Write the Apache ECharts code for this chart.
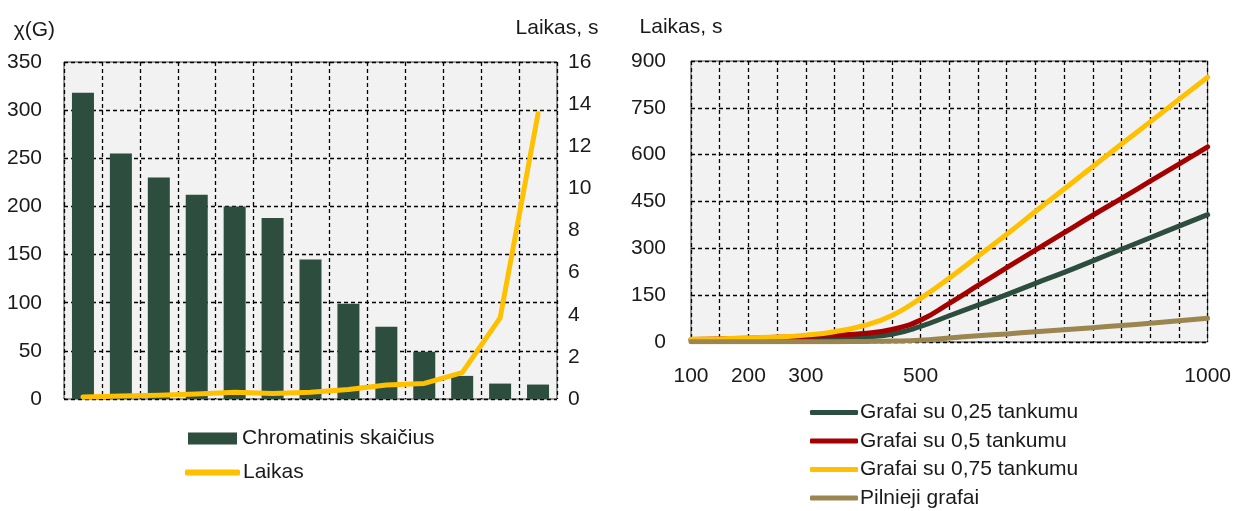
<!DOCTYPE html>
<html>
<head>
<meta charset="utf-8">
<script src="https://cdn.jsdelivr.net/npm/echarts@6/dist/echarts.min.js"></script>
<style>
  html, body { margin: 0; padding: 0; background: #ffffff; }
  #chart { width: 1234px; height: 511px; }
</style>
</head>
<body>
<div id="chart"></div>
<script>
// Left panel: chromatic number of each test graph and the time needed to find it
const graphs = ['G1', 'G2', 'G3', 'G4', 'G5', 'G6', 'G7', 'G8', 'G9', 'G10', 'G11', 'G12', 'G13'];
const chromaticNumber = [318, 255, 230, 212, 200, 188, 145, 99, 75, 49, 24, 16, 15];
const timeSeconds = [0.1, 0.14, 0.18, 0.24, 0.32, 0.26, 0.32, 0.45, 0.66, 0.74, 1.25, 3.85, 13.55];

// Right panel: running time by number of vertices for several edge densities
const vertexCounts = [100, 150, 200, 250, 300, 350, 400, 450, 500, 550, 600, 650, 700, 750, 800, 850, 900, 950, 1000];
const density025 = [7, 7, 8, 9, 10, 12, 16, 25, 50, 84, 118, 152, 188, 223, 260, 297, 334, 371, 408];
const density05  = [8, 10, 12, 15, 18, 22, 27, 40, 70, 124, 181, 238, 294, 350, 406, 460, 515, 570, 625];
const density075 = [9, 10, 13, 16, 22, 33, 52, 85, 140, 205, 275, 345, 418, 490, 562, 634, 705, 777, 848];
const completeGraphs = [1, 1, 1, 1, 1, 1, 2, 3, 6, 13, 20, 26, 33, 39, 46, 53, 60, 68, 76];
const shownVertexTicks = [100, 200, 300, 500, 1000];

const seriesNames = {
  chromatic: 'Chromatinis skaičius',
  time: 'Laikas',
  d025: 'Grafai su 0,25 tankumu',
  d05: 'Grafai su 0,5 tankumu',
  d075: 'Grafai su 0,75 tankumu',
  complete: 'Pilnieji grafai'
};

const colors = {
  green: '#2D4D3E',
  yellow: '#FFC000',
  red: '#A50000',
  tan: '#9C8650'
};

const FONT = "'Liberation Sans', Arial, sans-serif";
const TEXT = '#1a1a1a';
const baseText = { fontFamily: FONT, fontSize: 21, color: TEXT };
const dashed = { show: true, lineStyle: { color: '#000000', width: 1.3, type: [4, 3] } };

const pairs = (xs, ys) => xs.map((x, i) => [x, ys[i]]);

const chart = echarts.init(document.getElementById('chart'), null, { renderer: 'canvas' });

const lineSeries = (name, color, values) => ({
  name,
  type: 'line',
  xAxisIndex: 1,
  yAxisIndex: 2,
  data: pairs(vertexCounts, values),
  smooth: true,
  symbol: 'none',
  color,
  lineStyle: { color, width: 5, cap: 'round', join: 'round' }
});

chart.setOption({
  animation: false,
  backgroundColor: '#ffffff',
  textStyle: baseText,
  grid: [
    { left: 64, top: 62, width: 493, height: 337, show: true, backgroundColor: '#F2F2F2', borderColor: '#404040', borderWidth: 1 },
    { left: 691, top: 61, width: 517, height: 281, show: true, backgroundColor: '#F2F2F2', borderColor: '#404040', borderWidth: 1 }
  ],
  xAxis: [
    {
      type: 'category', gridIndex: 0, data: graphs, boundaryGap: true,
      axisLine: { show: false }, axisTick: { show: false }, axisLabel: { show: false },
      splitLine: Object.assign({ interval: 0 }, dashed)
    },
    {
      type: 'value', gridIndex: 1, min: 100, max: 1000, interval: 50,
      axisLine: { show: false }, axisTick: { show: false },
      axisLabel: Object.assign({
        margin: 24,
        formatter: v => (shownVertexTicks.includes(v) ? String(v) : '')
      }, baseText),
      splitLine: dashed
    }
  ],
  yAxis: [
    {
      type: 'value', gridIndex: 0, min: 0, max: 350, interval: 50,
      name: 'χ(G)', nameLocation: 'end', nameGap: 32,
      nameTextStyle: Object.assign({ align: 'right', verticalAlign: 'middle', padding: [0, 9, 0, 0] }, baseText),
      axisLine: { show: false }, axisTick: { show: false },
      axisLabel: Object.assign({ margin: 22 }, baseText),
      splitLine: dashed
    },
    {
      type: 'value', gridIndex: 0, min: 0, max: 16, interval: 2, position: 'right',
      name: 'Laikas, s', nameLocation: 'end', nameGap: 34,
      nameTextStyle: Object.assign({ align: 'center', verticalAlign: 'middle' }, baseText),
      axisLine: { show: false }, axisTick: { show: false },
      axisLabel: Object.assign({ margin: 11 }, baseText),
      splitLine: { show: false }
    },
    {
      type: 'value', gridIndex: 1, min: 0, max: 900, interval: 150,
      name: 'Laikas, s', nameLocation: 'end', nameGap: 34,
      nameTextStyle: Object.assign({ align: 'center', verticalAlign: 'middle', padding: [0, 20, 0, 0] }, baseText),
      axisLine: { show: false }, axisTick: { show: false },
      axisLabel: Object.assign({ margin: 25 }, baseText),
      splitLine: dashed
    }
  ],
  legend: [
    {
      data: [{ name: seriesNames.chromatic, icon: 'rect' }],
      left: 188, top: 428, padding: 0, itemWidth: 49, itemHeight: 12, selectedMode: false,
      textStyle: Object.assign({ lineHeight: 21 }, baseText)
    },
    {
      data: [{ name: seriesNames.time, icon: 'roundRect' }],
      left: 185, top: 462, padding: 0, itemWidth: 55, itemHeight: 6, selectedMode: false,
      textStyle: Object.assign({ lineHeight: 21, padding: [0, 0, 0, -2] }, baseText)
    },
    {
      orient: 'vertical',
      data: [seriesNames.d025, seriesNames.d05, seriesNames.d075, seriesNames.complete],
      icon: 'roundRect',
      left: 810, top: 402, height: 109, padding: 0,
      itemWidth: 48, itemHeight: 5, itemGap: 7.5, selectedMode: false,
      textStyle: Object.assign({ lineHeight: 21, padding: [0, 0, 0, -3] }, baseText)
    }
  ],
  series: [
    {
      name: seriesNames.chromatic, type: 'bar', xAxisIndex: 0, yAxisIndex: 0,
      data: chromaticNumber, barWidth: 22, color: colors.green,
      itemStyle: { color: colors.green }
    },
    {
      name: seriesNames.time, type: 'line', xAxisIndex: 0, yAxisIndex: 1,
      data: timeSeconds, symbol: 'none', color: colors.yellow,
      lineStyle: { color: colors.yellow, width: 5, cap: 'round', join: 'round' }
    },
    lineSeries(seriesNames.d025, colors.green, density025),
    lineSeries(seriesNames.d05, colors.red, density05),
    lineSeries(seriesNames.d075, colors.yellow, density075),
    lineSeries(seriesNames.complete, colors.tan, completeGraphs)
  ]
});
</script>
</body>
</html>
